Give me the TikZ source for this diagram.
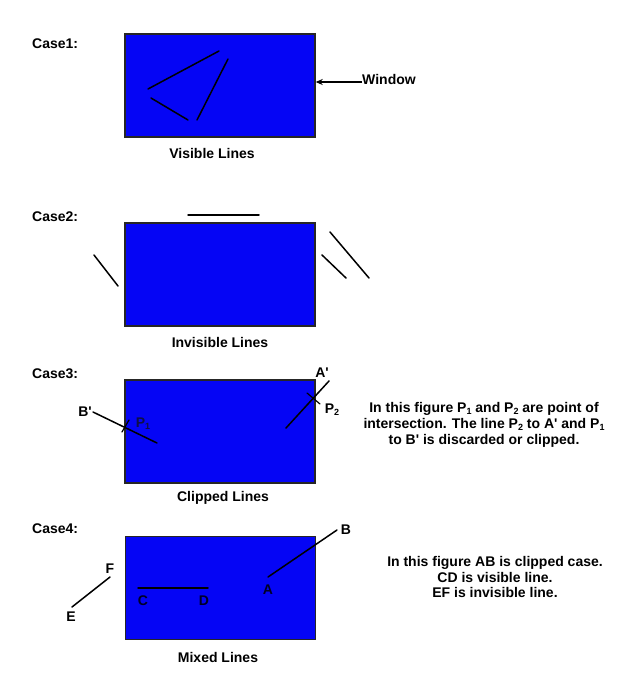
\documentclass[tikz,border=0pt]{standalone}
\usepackage{fontspec}
\setmainfont{Liberation Sans}
\usetikzlibrary{arrows.meta}
\definecolor{winblue}{RGB}{5,5,245}
\definecolor{navy}{RGB}{15,15,70}
\newcommand\subidx[1]{\raisebox{-0.25ex}{\fontsize{9}{9}\selectfont #1}}
\newcommand\apos{\textquotesingle}
\begin{document}
\begin{tikzpicture}[x=1pt,y=-1pt,
  win/.style={draw=black!85,line width=1.4pt,fill=winblue,minimum width=190pt,minimum height=103pt,inner sep=0pt},
  seg/.style={line width=1.5pt,line cap=round},
  lbl/.style={font=\fontsize{14}{16}\selectfont\bfseries,inner sep=0pt},
  para/.style={font=\fontsize{14}{15.8}\selectfont\bfseries,align=center,inner sep=0pt}]
\useasboundingbox[fill=white] (0,0) rectangle (636,680);

% Case 1
\node[lbl,anchor=west] (c1) at (32,44) {Case1:};
\node[win] (w1) at (220,85.5) {};
\node[lbl] (v1) at (212,153) {Visible Lines};
\node[lbl,anchor=west] (wl) at (362,79) {Window};
\draw[line width=1.3pt,-{Stealth[length=7pt,width=6pt]}] (wl.west |- 0,82) -- (w1.east |- 0,82);
\coordinate (a1) at (148,89); \coordinate (a2) at (219,51);
\coordinate (b1) at (151,98); \coordinate (b2) at (188,120);
\coordinate (d1) at (228,59); \coordinate (d2) at (197,120);
\draw[seg] (a1) -- (a2);
\draw[seg] (b1) -- (b2);
\draw[seg] (d1) -- (d2);

% Case 2
\node[lbl,anchor=west] (c2) at (32,217) {Case2:};
\node[win] (w2) at (220,274.5) {};
\node[lbl] (v2) at (220,342) {Invisible Lines};
\coordinate (t1) at (188,215); \coordinate (t2) at (259,215);
\coordinate (l1) at (94,255); \coordinate (l2) at (118,286);
\coordinate (r1) at (330,232); \coordinate (r2) at (369,278);
\coordinate (s1) at (322,255); \coordinate (s2) at (346,278);
\draw[seg] (t1) -- (t2);
\draw[seg] (l1) -- (l2);
\draw[seg] (r1) -- (r2);
\draw[seg] (s1) -- (s2);

% Case 3
\node[lbl,anchor=west] (c3) at (32,374) {Case3:};
\node[win] (w3) at (220,431.5) {};
\node[lbl] (v3) at (223,498) {Clipped Lines};
\coordinate (bp) at (93,412); \coordinate (be) at (157,443);
\coordinate (ap) at (329,381); \coordinate (ae) at (286,428);
\draw[seg] (bp) -- (be);
\draw[seg] (ap) -- (ae);
\coordinate (k1) at (122,432); \coordinate (k2) at (129,420);
\coordinate (m1) at (307,393); \coordinate (m2) at (320,404);
\draw[seg,line width=1.2pt] (k1) -- (k2);
\draw[seg,line width=1.2pt] (m1) -- (m2);
\node[lbl] (nB) at (85,412) {B\apos};
\node[lbl,text=navy] (nP1) at (143,424) {P\subidx{1}};
\node[lbl] (nA) at (322,373) {A\apos};
\node[lbl] (nP2) at (332,410) {P\subidx{2}};
\node[para] (txt3) at (484,425) {In this figure P\subidx{1} and P\subidx{2} are point of\\intersection. The line P\subidx{2} to A\apos{} and P\subidx{1}\\to B\apos{} is discarded or clipped.};

% Case 4
\node[lbl,anchor=west] (c4) at (32,529) {Case4:};
\node[win] (w4) at (220.5,588) {};
\node[lbl] (v4) at (218,657) {Mixed Lines};
\coordinate (pB) at (337,530); \coordinate (pA) at (268,577);
\coordinate (pC) at (138,588); \coordinate (pD) at (208,588);
\coordinate (pF) at (110,577); \coordinate (pE) at (72,607);
\draw[seg] (pB) -- (pA);
\draw[seg] (pC) -- (pD);
\draw[seg] (pF) -- (pE);
\node[lbl] (lB) at (346,530) {B};
\node[lbl,text=black!85!blue] (lA) at (268,590) {A};
\node[lbl,text=black!85!blue] (lC) at (143,601) {C};
\node[lbl,text=black!85!blue] (lD) at (204,601) {D};
\node[lbl] (lF) at (110,569) {F};
\node[lbl] (lE) at (71,617) {E};
\node[para] (txt4) at (495,577) {In this figure AB is clipped case.\\CD is visible line.\\EF is invisible line.};
\end{tikzpicture}
\end{document}
